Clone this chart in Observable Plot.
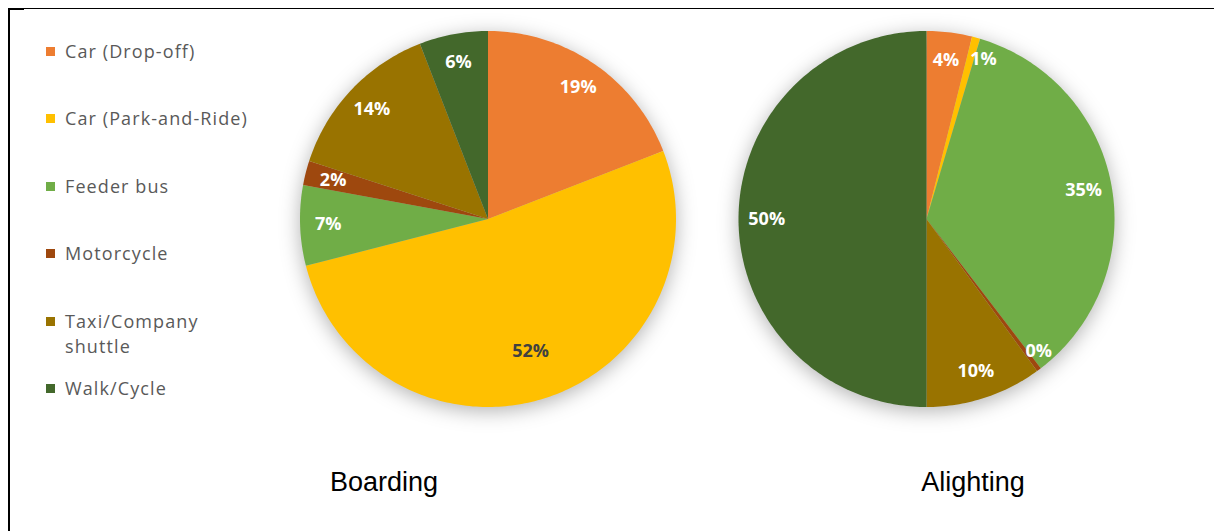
<!DOCTYPE html>
<html><head><meta charset="utf-8">
<script src="https://cdn.jsdelivr.net/npm/d3@7"></script>
<script src="https://cdn.jsdelivr.net/npm/@observablehq/plot@0.6"></script>
<style>
html,body{margin:0;padding:0;background:#fff;}
#wrap{position:relative;width:1214px;height:531px;overflow:hidden;background:#fff;}
#chart{position:absolute;left:0;top:0;}
#frame{position:absolute;left:8px;top:8px;right:-2px;bottom:-4px;border-top:1px solid #000;border-left:2px solid #000;pointer-events:none;}
#corner{position:absolute;left:9px;top:9px;width:15px;height:1px;background:#000;}
#legend{position:absolute;left:46px;top:0;font-family:"Open Sans",sans-serif;font-size:18px;color:#595959;}
.item{position:absolute;left:0;white-space:pre;display:flex;align-items:flex-start;line-height:25px;letter-spacing:1.1px;}
.sw{width:9px;height:9px;margin-right:10px;margin-top:8px;flex:none;}
.cap{position:absolute;font-family:"Liberation Sans",Arial,sans-serif;font-size:27px;line-height:27px;color:#000;transform:translateX(-50%);white-space:nowrap;}
</style></head>
<body><div id="wrap"><div id="chart"></div><div id="legend"></div><div id="frame"></div><div id="corner"></div></div>
<script>
// ---- data ----
const categories = ["Car (Drop-off)", "Car (Park-and-Ride)", "Feeder bus", "Motorcycle", "Taxi/Company shuttle", "Walk/Cycle"];
const legendLabels = ["Car (Drop-off)", "Car (Park-and-Ride)", "Feeder bus", "Motorcycle", "Taxi/Company\nshuttle", "Walk/Cycle"];
const colors = ["#ED7D31", "#FFC000", "#70AD47", "#9E480E", "#997300", "#43682B"];
const pieNames = ["Boarding", "Alighting"];
const boarding = [19.1, 51.9, 6.9, 2.1, 14.1, 5.9];
const alighting = [3.9, 0.7, 35.0, 0.4, 10.0, 50.0];

// ---- layout ----
const W = 1214, H = 531;
const R = 188;                 // pie radius in px (1 data unit)
const cxPx = [487.5, 926];     // pie centres
const cyPx = 218.5;
const series = [boarding, alighting];

const slicePts = [];
const labels = [];
series.forEach((vals, p) => {
  const total = d3.sum(vals);
  const cx = (cxPx[p] - cxPx[0]) / R, cy = 0;
  let cum = 0;
  vals.forEach((v, i) => {
    const a0 = cum / total * 2 * Math.PI;
    cum += v;
    const a1 = cum / total * 2 * Math.PI;
    const key = pieNames[p] + "|" + categories[i];
    const n = Math.max(2, Math.ceil((a1 - a0) / (Math.PI / 180)));
    slicePts.push({key, cat: categories[i], x: cx, y: cy});
    for (let k = 0; k <= n; k++) {
      const a = a0 + (a1 - a0) * k / n;
      slicePts.push({key, cat: categories[i], x: cx + Math.sin(a), y: cy + Math.cos(a)});
    }
    slicePts.push({key, cat: categories[i], x: cx, y: cy});
    const mid = (a0 + a1) / 2;
    const share = v / total;
    const tiny = share < 0.015;
    const r = share > 0.51 ? 0.74 : (tiny ? 0.88 : 0.85);
    labels.push({
      text: Math.round(share * 100) + "%",
      x: cx + r * Math.sin(mid), y: cy + r * Math.cos(mid),
      dark: categories[i] === "Car (Park-and-Ride)" && !tiny,
      anchor: tiny ? "start" : "middle"
    });
  });
});

const labelFont = {fontFamily: "'Open Sans', sans-serif", fontSize: 18, fontWeight: "bold"};
const svg = Plot.plot({
  width: W, height: H,
  margin: 0,
  x: {domain: [-cxPx[0] / R, (W - cxPx[0]) / R], axis: null},
  y: {domain: [-(H - cyPx) / R, cyPx / R], axis: null},
  color: {domain: categories, range: colors},
  marks: [
    Plot.line(slicePts, {x: "x", y: "y", z: "key", fill: "cat", stroke: "none", curve: "linear"}),
    Plot.text(labels.filter(d => !d.dark && d.anchor === "middle"), {x: "x", y: "y", text: "text", fill: "white", textAnchor: "middle", ...labelFont}),
    Plot.text(labels.filter(d => !d.dark && d.anchor === "start"), {x: "x", y: "y", text: "text", fill: "white", textAnchor: "start", ...labelFont}),
    Plot.text(labels.filter(d => d.dark), {x: "x", y: "y", text: "text", fill: "#404040", textAnchor: "middle", ...labelFont})
  ]
});
d3.select(svg).selectAll('g[aria-label="line"]').style("filter", "drop-shadow(0px 4px 10px rgba(0,0,0,0.3))");
document.getElementById("chart").appendChild(svg);

// ---- legend ----
const legend = d3.select("#legend");
legendLabels.forEach((lab, i) => {
  const centre = 52 + i * 67.4;
  const it = legend.append("div").attr("class", "item").style("top", (centre - 13) + "px");
  it.append("div").attr("class", "sw").style("background", colors[i]);
  it.append("span").text(lab);
});

// ---- captions ----
const capX = [384, 973];
pieNames.forEach((name, i) => {
  d3.select("#wrap").append("div").attr("class", "cap")
    .style("left", capX[i] + "px").style("top", "469px").text(name);
});
</script>
</body></html>
